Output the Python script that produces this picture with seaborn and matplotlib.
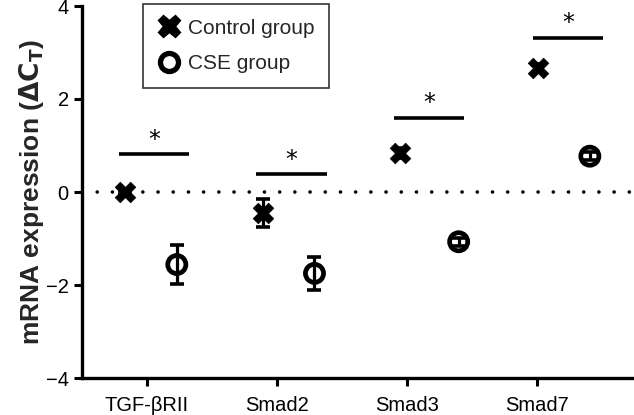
import numpy as np
import pandas as pd
import matplotlib
matplotlib.use("Agg")
import matplotlib.pyplot as plt
import seaborn as sns
from matplotlib.lines import Line2D

# ---------------------------------- Data -----------------------------------------

genes = ["TGF-βRII", "Smad2", "Smad3", "Smad7"]
control_mean = [0.0, -0.45, 0.84, 2.67]
control_err = [0.05, 0.31, 0.1, 0.08]
cse_mean = [-1.56, -1.75, -1.07, 0.77]
cse_err = [0.42, 0.35, 0.09, 0.09]
sig_level = [0.81, 0.38, 1.60, 3.31]

# x placement of the points relative to the category ticks (as in the original figure)
ctrl_x = [-0.17, 0.89, 1.95, 3.01]
cse_x = [0.23, 1.29, 2.40, 3.41]
sig_span = [(-0.215, 0.32), (0.838, 1.385), (1.90, 2.44), (2.97, 3.51)]

df = pd.DataFrame({
    "x": ctrl_x + cse_x,
    "value": control_mean + cse_mean,
    "err": control_err + cse_err,
    "group": ["Control group"] * 4 + ["CSE group"] * 4,
})

# ---------------------------------- Plot -----------------------------------------

sns.set_style("ticks")
plt.rcParams["font.family"] = ["Liberation Sans", "DejaVu Sans"]

fig = plt.figure(figsize=(6.34, 4.15), dpi=100)
ax = fig.add_axes([82 / 634, 1 - 378 / 415, 552 / 634, 372 / 415])

ax.axhline(0, color="black", lw=2.6, ls=(0, (0.01, 4.2)), dash_capstyle="round", zorder=1)

sns.scatterplot(data=df[df.group == "Control group"], x="x", y="value", marker="X",
                s=220, color="black", edgecolor="black", linewidth=0.5, ax=ax, zorder=3, legend=False)
sns.scatterplot(data=df[df.group == "CSE group"], x="x", y="value", marker="o",
                s=170, facecolor="none", edgecolor="black", linewidth=3.4, ax=ax, zorder=3, legend=False)

# error bars on top of the markers, like the original
for _, r in df.iterrows():
    ax.errorbar(r.x, r.value, yerr=r.err, fmt="none", ecolor="black",
                elinewidth=2.3, capsize=5, capthick=2.6, zorder=4)

for (x0, x1), y in zip(sig_span, sig_level):
    ax.plot([x0, x1], [y, y], color="black", lw=2.6, solid_capstyle="butt")
    ax.text((x0 + x1) / 2, y + 0.06, "*", ha="center", va="bottom", fontsize=17,
            family="DejaVu Sans", color="black")

ax.set_xlim(-0.5, 3.75)
ax.set_ylim(-4, 4)
ax.set_xticks(range(len(genes)))
ax.set_xticklabels(genes)
ax.set_yticks([-4, -2, 0, 2, 4])
ax.set_yticklabels(["\u22124", "\u22122", "0", "2", "4"])
ax.tick_params(axis="both", labelsize=14.5, width=2.2, length=6, color="black", labelcolor="black")
ax.tick_params(axis="x", pad=7)
ax.set_xlabel("")
ax.set_ylabel(r"mRNA expression ($\mathbf{\Delta C_T}$)", fontsize=19, fontweight="bold", labelpad=0)
sns.despine(ax=ax)
for s in ["left", "bottom"]:
    ax.spines[s].set_linewidth(2.4)
    ax.spines[s].set_color("black")

handles = [
    Line2D([], [], marker="X", color="black", ls="none", markersize=16),
    Line2D([], [], marker="o", markerfacecolor="white", markeredgecolor="black",
           markeredgewidth=3.8, ls="none", markersize=13),
]
leg = ax.legend(handles, ["Control group", "CSE group"], loc="upper left",
                bbox_to_anchor=(0.110, 1.005), fontsize=15, frameon=True, fancybox=False,
                handletextpad=0.35, borderpad=0.7, labelspacing=0.8, handlelength=1.1,
                borderaxespad=0)
leg.get_frame().set_edgecolor("black")
leg.get_frame().set_linewidth(1.2)

fig.savefig("out.png", dpi=100)
